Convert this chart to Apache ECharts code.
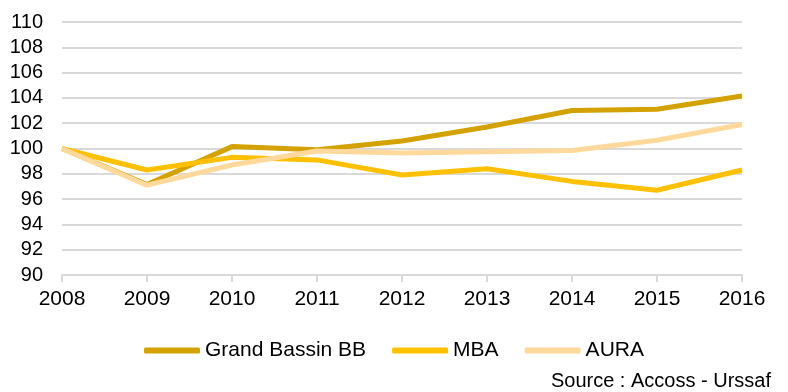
<!DOCTYPE html>
<html>
<head>
<meta charset="utf-8">
<script src="https://cdn.jsdelivr.net/npm/echarts@6/dist/echarts.min.js"></script>
<style>
  html, body { margin: 0; padding: 0; background: #fff; }
  #chart { width: 788px; height: 392px; }
</style>
</head>
<body>
<div id="chart"></div>
<script>
// Employment index, base 100 in 2008
const years = ['2008', '2009', '2010', '2011', '2012', '2013', '2014', '2015', '2016'];
const grandBassin = [100, 97.15, 100.15, 99.9, 100.6, 101.7, 103.0, 103.1, 104.15];
const mba = [100, 98.3, 99.3, 99.1, 97.9, 98.4, 97.4, 96.7, 98.3];
const aura = [100, 97.1, 98.7, 99.8, 99.65, 99.75, 99.85, 100.65, 101.9];

const seriesNames = ['Grand Bassin BB', 'MBA', 'AURA'];
const seriesColors = ['#D4A200', '#FFC000', '#FFD89C'];
const seriesData = [grandBassin, mba, aura];

const FONT = '"Liberation Sans", Arial, sans-serif';

const chart = echarts.init(document.getElementById('chart'), null, { renderer: 'canvas' });

chart.setOption({
  animation: false,
  backgroundColor: '#ffffff',
  grid: { left: 62, right: 46, top: 22, bottom: 117, containLabel: false },
  xAxis: {
    type: 'category',
    data: years,
    boundaryGap: false,
    axisLine: { show: true, lineStyle: { color: '#D9D9D9', width: 2 } },
    axisTick: { show: true, length: 7, lineStyle: { color: '#D9D9D9', width: 2 } },
    axisLabel: { color: '#000', fontSize: 21, fontFamily: FONT, margin: 14 },
    splitLine: { show: false }
  },
  yAxis: {
    type: 'value',
    min: 90,
    max: 110,
    interval: 2,
    axisLine: { show: false },
    axisTick: { show: false },
    axisLabel: { color: '#000', fontSize: 20, fontFamily: FONT, margin: 19 },
    splitLine: { lineStyle: { color: '#D9D9D9', width: 2 } }
  },
  legend: {
    bottom: 26,
    left: 'center',
    itemWidth: 56,
    itemHeight: 6,
    itemGap: 26,
    icon: 'roundRect',
    textStyle: { color: '#000', fontSize: 21, fontFamily: FONT },
    data: seriesNames
  },
  graphic: [{
    type: 'text',
    right: 17,
    top: 371,
    style: { text: 'Source : Accoss - Urssaf', fontSize: 20, fontFamily: FONT, fill: '#000' }
  }],
  series: seriesNames.map((name, i) => ({
    name: name,
    type: 'line',
    data: seriesData[i],
    symbol: 'none',
    z: 2 + i,
    lineStyle: { color: seriesColors[i], width: 5 },
    itemStyle: { color: seriesColors[i] }
  }))
});
</script>
</body>
</html>
